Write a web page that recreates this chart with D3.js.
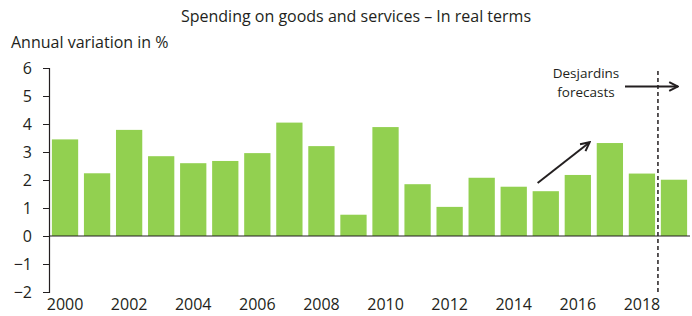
<!DOCTYPE html>
<html><head><meta charset="utf-8">
<script src="https://cdn.jsdelivr.net/npm/d3@7"></script>
<style>body{margin:0;background:#fff}svg text{font-family:"Open Sans",sans-serif;fill:#231f20}</style>
</head><body><svg id="c" width="692" height="316"></svg>
<script>
const years = d3.range(2000, 2020);
const values = [3.45, 2.24, 3.79, 2.85, 2.60, 2.68, 2.96, 4.05, 3.21, 0.76, 3.89, 1.85, 1.04, 2.08, 1.76, 1.60, 2.18, 3.32, 2.23, 2.01];
const yTicks = [-2, -1, 0, 1, 2, 3, 4, 5, 6];
const xTickLabels = [2000, 2002, 2004, 2006, 2008, 2010, 2012, 2014, 2016, 2018];
const forecastStart = 2019;
const title = "Spending on goods and services – In real terms";
const yTitle = "Annual variation in %";

const svg = d3.select("#c");
const x = d3.scaleBand().domain(years).range([49, 690]).paddingInner(0.18).paddingOuter(0.09);
const y = d3.scaleLinear().domain([-2, 6]).range([292, 68]);
const ink = "#231f20";

svg.append("defs").append("marker").attr("id","ah").attr("viewBox","0 0 10 10")
  .attr("refX",9).attr("refY",5).attr("markerWidth",11).attr("markerHeight",11).attr("markerUnits","userSpaceOnUse")
  .attr("orient","auto").append("path").attr("d","M1,1 L9,5 L1,9").attr("fill","none").attr("stroke",ink).attr("stroke-width",1.8);

svg.append("text").attr("x",356).attr("y",22).attr("text-anchor","middle").style("font-size","16px").text(title);
svg.append("text").attr("x",11).attr("y",48).style("font-size","16px").text(yTitle);

svg.append("g").selectAll("rect").data(years).join("rect")
  .attr("x", d => x(d)).attr("width", x.bandwidth())
  .attr("y", (d,i) => y(Math.max(0, values[i]))).attr("height", (d,i) => Math.abs(y(values[i]) - y(0)))
  .attr("fill", "#92d050");

const ya = svg.append("g").attr("transform","translate(49,0)")
  .call(d3.axisLeft(y).tickValues(yTicks).tickSize(6).tickPadding(11).tickFormat(d3.format("d")));
ya.select(".domain").attr("stroke",ink).attr("stroke-width",1.2);
ya.selectAll(".tick line").attr("stroke",ink);
ya.selectAll("text").style("font-size","16px").attr("fill",ink);

svg.append("line").attr("x1",49).attr("x2",690).attr("y1",y(0)).attr("y2",y(0)).attr("stroke",ink).attr("stroke-width",1.2);

const xa = svg.append("g").attr("transform",`translate(0,${y(-2)})`)
  .call(d3.axisBottom(x).tickValues(xTickLabels).tickSize(0).tickPadding(7));
xa.select(".domain").remove();
xa.selectAll("text").style("font-size","16px").attr("fill",ink);

const fx = x(forecastStart) - x.step()*x.paddingInner()/2;
svg.append("line").attr("x1",fx).attr("x2",fx).attr("y1",y(6)+3).attr("y2",y(-2)).attr("stroke",ink)
  .attr("stroke-width",1.5).attr("stroke-dasharray","4,3");

svg.append("text").attr("x",586).attr("y",78).attr("text-anchor","middle").style("font-size","13.5px").text("Desjardins");
svg.append("text").attr("x",586).attr("y",97).attr("text-anchor","middle").style("font-size","13.5px").text("forecasts");
svg.append("line").attr("x1",625).attr("x2",678).attr("y1",86.5).attr("y2",86.5).attr("stroke",ink).attr("stroke-width",2).attr("marker-end","url(#ah)");

svg.append("line").attr("x1",x(2015)+5).attr("y1",y(1.89)).attr("x2",x(2016)+25).attr("y2",y(3.35))
  .attr("stroke",ink).attr("stroke-width",2).attr("marker-end","url(#ah)");
</script></body></html>
